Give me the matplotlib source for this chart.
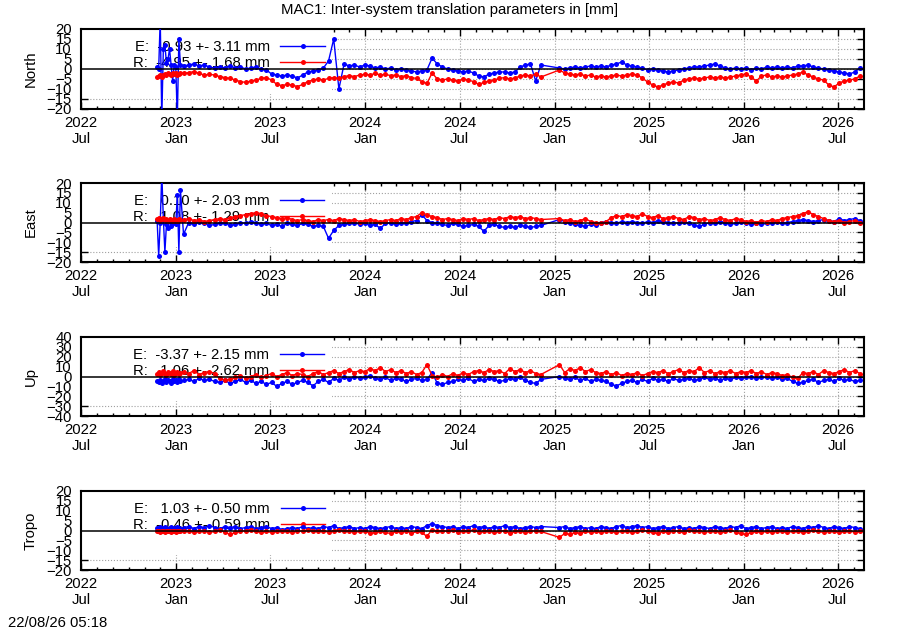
import datetime

import numpy as np
import pandas as pd
import matplotlib
matplotlib.use("Agg")
import matplotlib.pyplot as plt
import matplotlib.dates as mdates
from matplotlib.patches import Rectangle

plt.rcParams['font.family'] = ['Liberation Sans', 'DejaVu Sans']
FS = 10.7

# sample dates: dense start, then every 10 days, gap Dec 2024 / Jan 2025
dates = pd.date_range("2022-11-25", periods=16, freq="3D").append([
    pd.date_range("2023-01-15", periods=70, freq="10D"),
    pd.date_range("2025-01-10", periods=59, freq="10D"),
])

north_e = [1, 0, 25, -25, 10, 12, 3, 5, 10, 2, -6, 2, 1, -25, 15, 2,
           1.5, 2, 2.5, 1.5, 2, 1, 0.5, 1, 0.5, 1.5,
           0.5, 1, 0, 0.5, 1, 0, -0.5, -2.5, -3, -3.5,
           -3, -3.5, -4.5, -3, -1.5, -1, -0.5, 0.5, 4, 15,
           -10, 2.5, 1.5, 2, 1, 2, 1.5, 0.5, 1, 0,
           0.5, -0.5, 0, -0.5, -1, -1.5, -1, -0.5, 5.5, 2.5,
           1, 0, -0.5, -1, -1.5, -1, -2, -3.5, -4, -2.5,
           -2, -1.5, -1.5, -2, -1.5, 1, 2, 2.5, -6, 2,
           0.5, 0, 0.5, 1, 0.5, 1, 1.5, 1, 1.5, 1,
           2, 2.5, 3.5, 2, 1.5, 1, 0.5, -0.5, 0, -0.5,
           -1, -1.5, -1, -0.5, 0, 0.5, 1, 1, 1.5, 2,
           2.5, 1.5, 0.5, 0, 0.5, 0, 0.5, -0.5, 0.5, 0,
           1, 0.5, 1, 0.5, 1, 0.5, 1.5, 1.5, 2, 1,
           0.5, 0, -0.5, -1, -1.5, -2, -2.5, -1.5, 0.5]
north_r = [-4, -3.5, -3, -4, -3, -2.5, -3, -2, -2.5, -3, -2, -2.5, -2, -3, -2.5, -2,
           -2.2, -1.8, -1.3, -2.2, -3, -2.7, -3, -3.8, -4.3, -4.7,
           -5.5, -6.3, -6.7, -6, -5.5, -4.7, -4.3, -5.5, -7.7, -8.3,
           -7.7, -8, -8.8, -7.7, -6.3, -5.5, -5, -5.5, -4.7, -4.3,
           -4.7, -3.8, -3.3, -3.8, -3, -2.7, -3, -2.2, -3, -2.7,
           -3.3, -3, -3.8, -3.3, -4.3, -4.7, -6.3, -7.2, -2, -5,
           -5.5, -5, -5.5, -6, -5, -5.5, -6.3, -7.7, -6.7, -6,
           -5.5, -4.7, -4.3, -5, -4.5, -3.5, -3, -3.5, -2.5, -4,
           -0.5, -2, -2.5, -3, -2.5, -3.5, -3, -4, -3.5, -4,
           -3.5, -3, -3.5, -3, -2.5, -3, -4.5, -6.5, -8, -9,
           -8, -7, -6.5, -7, -5.5, -5, -4.5, -5, -4.5, -4,
           -4.5, -4, -4.5, -4, -3.5, -3, -2.5, -4, -6, -3.5,
           -3, -4, -3.5, -4, -3.5, -3, -2.5, -1.5, -3, -4,
           -5, -5.5, -8, -9, -7, -6, -5.5, -5, -3.5]

east_e = [1, -17, 0, 25, 2, -15, -1, -3, 1, -2, 0, 0.5, -1, 14, -15, 16.5,
          -6, 0, -1, 0.5, -0.5, -1.5, -1, 0, -0.5, -1.5,
          -1, 0, -0.5, 0.5, 0, -1, -0.5, -1.5, -1, -2,
          -0.5, -1, -1.5, -0.5, -1, -2, -1.5, -2, -8, -4,
          -1.5, -1, -0.5, 0, -1, -0.5, -1.5, -1, -3, -0.5,
          0, -1, -0.5, 0, 0.5, 1, 4, 1, 0, -0.5,
          -1, -1.5, -0.5, -1, -2, -1.5, -1, -2, -4.5, -1.5,
          -1, -2, -2.5, -2, -2.5, -1.5, -2, -2.5, -2, -1.5,
          1.5, 0.5, 0, -1, -1.5, -2, -1, -1.5, 0, 0.5,
          0, -0.5, 0.5, 0, 0.5, 0, -0.5, 0.5, 0, 1,
          0.5, 0, -0.5, 0, 0.5, -0.5, -1.5, -2, -1, 0,
          -0.5, 0.5, 0, -1, -0.5, 0.5, 0, -1, -0.5, -1,
          -0.5, 0, 0.5, -0.5, 0, 0.5, 1, 1.5, 1, 0.5,
          1, 1.5, 1, 0.5, 2, 1, 1.5, 2, 1]
east_r = [2, 2.5, 1.5, 2, 2.5, 1.5, 2, 1, 2, 1.5, 1, 2, 1.5, 1, 2, 1.5,
          1.5, 2, 1, 1.5, 0.5, 1, 1.5, 2, 1.5, 2.5,
          3, 3.5, 4, 4.5, 5, 4.5, 3.5, 3, 2.5, 2,
          2.5, 1.5, 1, 1.5, 1, 0.5, 1.5, 1, 1.5, 1,
          2, 1.5, 1, 1.5, 0.5, 1, 1.5, 1, 0.5, 1,
          1.5, 1, 2, 1.5, 2.5, 3, 5, 4, 3, 2.5,
          1.5, 2, 1.5, 1, 2, 1.5, 2, 1, 1.5, 2,
          1.5, 2.5, 2, 3, 2.5, 3, 2, 2.5, 2, 1.5,
          2, 1, 1.5, 0.5, 1, 2, 0.5, 0, -0.5, 0.5,
          2.5, 3.5, 3, 4, 3.5, 3, 4.5, 3, 2.5, 3.5,
          2, 2.5, 3, 2, 1.5, 3, 2.5, 1.5, 2, 1,
          1.5, 2.5, 1.5, 1, 2, 1.5, 0.5, 1, 0, 1,
          0.5, 1.5, 1, 2, 2.5, 3, 3.5, 4.5, 5.5, 4,
          3, 2, 1, 0.5, 1, 0, 0.5, 1, 0]

up_e = [-5, -6, -4, -7, -5, -3, -6, -4, -5, -7, -3, -5, -4, -6, -3, -5,
        -4, -3, -5, -2, -4, -3, -5, -6, -4, -7,
        -5, -3, -6, -4, -7, -5, -8, -6, -10, -7,
        -5, -8, -6, -4, -6, -9.5, -5, -3, -6, -2,
        -4, -1, -3, 0, -2, -1, 1, -2, -3, -1,
        -4, -2, -3, -5, -3, -2, -4, -3, 4, -7,
        -8, -6, -5, -3, -4, -2, -5, -3, -4, -2,
        -3, -5, -4, -2, -3, -1, -4, -6, -7, -3,
        0, -2, -3, -1, -4, -2, -5, -3, -4, -5,
        -8, -9.5, -7, -5, -4, -6, -3, -5, -2, -4,
        -3, -5, -2, -4, -3, -2, -4, -3, -1, -3,
        -2, -4, -2, -3, -1, -2, -1, 0, -2, -1,
        -1, -2, -1, -3, -2, -5, -7, -6, -4, -3,
        -6, -4, -3, -5, -2, -4, -3, -5, -4]
up_r = [3, 5, 2, 4, 6, 3, 2, 5, 4, 3, 6, 2, 4, 5, 3, 4,
        5, 3, 6, 2, 4, 5, 3, -2, -4, -3,
        -1, 1, -2, 0, 2, -1, 1, 3, 0, 2,
        4, 1, 3, 2, 0, 3, 5, 2, 4, 6,
        3, 5, 7, 4, 6, 5, 8, 6, 9, 5,
        7, 4, 6, 3, 5, 2, 4, 12, 1, -1,
        2, 0, 3, 1, 4, 2, 5, 6, 4, 7,
        5, 6, 3, 8, 5, 7, 4, 6, 3, 2,
        12, 4, 8, 6, 9, 5, 7, 4, 3, 5,
        2, 4, 1, 3, 2, 4, 1, 3, 5, 4,
        6, 3, 5, 7, 4, 6, 5, 9, 4, 6,
        3, 5, 4, 6, 3, 5, 4, 6, 3, 5,
        2, 4, 3, 1, 2, -1, -2, 4, 3, 5,
        2, 6, 4, 3, 5, 7, 4, 6, 3]

tropo_e = [1.5, 1, 2, 1.5, 1, 2, 1.5, 1, 1.5, 2, 1, 1.5, 1, 2, 1.5, 1,
           1.5, 2, 1, 2, 1.5, 2.5, 1.5, 1, 2, 1.5,
           2, 1, 1.5, 2, 1, 1.5, 2, 1, 1.5, 0.5,
           1, 1.5, 1, 2, 1, 1.5, 1, 2, 1.5, 2.5,
           1, 1.5, 2, 1, 1.5, 1, 2, 1.5, 1, 1.5,
           2, 1, 1.5, 1, 2, 1.5, 1, 2.5, 3.5, 2.5,
           2, 1.5, 2, 1, 2, 1.5, 2.5, 1.5, 2, 1,
           2, 1.5, 2.5, 1.5, 2, 1, 1.5, 2, 1.5, 2,
           1.5, 2, 1, 1.5, 2, 1, 1.5, 1, 2, 1.5,
           1, 2, 2.5, 1.5, 2, 2.5, 1.5, 2, 1, 1.5,
           2, 1, 1.5, 2, 1, 1.5, 1, 2, 1.5, 1,
           2, 1.5, 1, 2, 1.5, 2.5, 1, 1.5, 2, 1,
           1.5, 2, 1, 1.5, 1, 2, 1.5, 1, 2, 1.5,
           2.5, 1.5, 1, 2, 1.5, 1, 2, 1.5, 1]
tropo_r = [-0.5, 0, -1, -0.5, 0, -1, -0.5, 0, -0.5, -1, 0, -0.5, -1, -0.5, 0, -0.5,
           -0.5, 0, -1, -0.5, 0, -1, -0.5, 0.5, -1, -2,
           -1, -0.5, 0, 0.5, -0.5, -1, -0.5, -1, -0.5, 0,
           -0.5, -1, 0, -0.5, 0.5, 0, -0.5, 0, -1, 0,
           0.5, -0.5, 0, -1, -0.5, 0, -1.5, -1, -0.5, -1,
           -1.5, -0.5, -1, 0, -1.5, -0.5, -1, -3, 0.5, -0.5,
           0, -0.5, 0.5, -1, 0, -0.5, 0.5, -1, -0.5, 0,
           -1, -0.5, 0, -1.5, -0.5, 0, -1, -0.5, 0, -0.5,
           -3.5, -1.5, -2, -1, -1.5, -0.5, -1, -0.5, -1, 0,
           -0.5, -1, -0.5, 0, -1, -0.5, 0.5, -0.5, -1, -1.5,
           -0.5, -1, 0, -0.5, -1, 0.5, -0.5, 0, -1, -0.5,
           0, -1, -0.5, 0.5, -1, -1.5, -2, -1, -0.5, -1,
           -0.5, -1, 0, -0.5, -1, -0.5, 0, -1, -0.5, 0.5,
           -0.5, -1, 0, -0.5, -1, -0.5, 0, -1, -0.5]

names = ["North", "East", "Up", "Tropo"]
e_series = [north_e, east_e, up_e, tropo_e]
r_series = [north_r, east_r, up_r, tropo_r]
e_mean = [-0.93, 0.10, -3.37, 1.03]
e_std = [3.11, 2.03, 2.15, 0.50]
r_mean = [-4.95, 1.08, 1.06, -0.46]
r_std = [1.68, 1.29, 2.62, 0.59]
ylims = [20, 20, 40, 20]
ysteps = [5, 5, 10, 5]

# panel frames in pixels (top, bottom) of a 900x630 canvas
FRAMES = [(29, 109), (183, 262), (337, 416), (491, 570)]
LEFT, RIGHT = 81, 864

fig = plt.figure(figsize=(9, 6.3), dpi=100)

for k, name in enumerate(names):
    top, bot = FRAMES[k]
    ax = fig.add_axes([LEFT / 900, 1 - bot / 630, (RIGHT - LEFT) / 900, (bot - top) / 630])
    e = np.array(e_series[k], dtype=float)
    r = np.array(r_series[k], dtype=float)
    assert len(e) == len(dates) and len(r) == len(dates), (name, len(e), len(r))

    ax.plot(dates, e, '-o', color='#0000ff', lw=1.0, ms=3.6, mew=0, zorder=3,
            label="E:  %5.2f +- %4.2f mm" % (e_mean[k], e_std[k]))
    ax.plot(dates, r, '-o', color='#ff0000', lw=1.0, ms=3.6, mew=0, zorder=3,
            label="R:  %5.2f +- %4.2f mm" % (r_mean[k], r_std[k]))
    ax.axhline(0, color='black', lw=1.1, zorder=4)

    lim = ylims[k]
    ax.set_ylim(-lim, lim)
    ax.set_yticks(np.arange(-lim, lim + 1, ysteps[k]))
    ax.set_xlim(datetime.datetime(2022, 7, 1), datetime.datetime(2026, 8, 21))
    ax.xaxis.set_major_locator(mdates.MonthLocator(bymonth=[1, 7]))
    ax.xaxis.set_minor_locator(mdates.MonthLocator())
    ax.xaxis.set_major_formatter(mdates.DateFormatter('%Y\n%b'))

    ax.set_axisbelow(True)
    ax.grid(True, which='major', linestyle=':', color='#a0a0a0', lw=0.8)
    # opaque key area hides the grid, data is drawn over it
    ax.add_patch(Rectangle((0, 0.1875), 0.3206, 0.8125, transform=ax.transAxes,
                           facecolor='white', edgecolor='none', zorder=1))
    leg = ax.legend(loc='upper left', bbox_to_anchor=(0.0664, 0.86),
                    markerfirst=False, frameon=False, borderpad=0,
                    borderaxespad=0, handlelength=3.0, handletextpad=0.7,
                    labelspacing=0.15, fontsize=FS)
    leg.set_zorder(1.5)

    ax.tick_params(which='both', direction='in', top=True, right=True,
                   labelsize=FS, width=1)
    ax.tick_params(which='major', length=5)
    ax.tick_params(which='minor', length=2.5)
    ax.tick_params(axis='y', pad=6.5)
    ax.tick_params(axis='x', pad=5)
    for sp in ax.spines.values():
        sp.set_linewidth(1.5)

    ax.set_ylabel(name, fontsize=FS)
    ax.yaxis.set_label_coords(-0.055, 0.5)

fig.text(0.499, 1 - 10 / 630, "MAC1: Inter-system translation parameters in [mm]",
         ha='center', va='center', fontsize=FS)
fig.text(8 / 900, 1 - 623 / 630, "22/08/26 05:18", ha='left', va='center', fontsize=FS)

fig.savefig("out.png", dpi=100)
